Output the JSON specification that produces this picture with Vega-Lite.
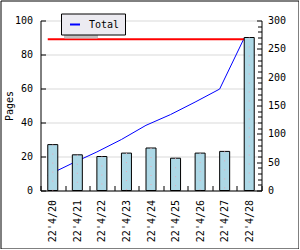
{
  "$schema": "https://vega.github.io/schema/vega-lite/v6.json",
  "width": 298,
  "height": 248,
  "autosize": {"type": "none"},
  "padding": {"left": 0.5, "top": 0.5, "right": 0, "bottom": 0},
  "background": "white",
  "config": {
    "view": {"stroke": "black", "strokeWidth": 1},
    "axis": {
      "labelFont": "DejaVu Sans Mono",
      "labelFontSize": 10,
      "labelColor": "black",
      "titleFont": "DejaVu Sans Mono",
      "titleFontSize": 10,
      "titleFontWeight": "normal",
      "titleColor": "black",
      "domainColor": "black",
      "tickColor": "black",
      "gridColor": "#d9d9d9"
    }
  },
  "data": {
    "values": [
      {"date": "22'4/20", "pages": 27, "total": 27, "limit": 89},
      {"date": "22'4/21", "pages": 21, "total": 48, "limit": 89},
      {"date": "22'4/22", "pages": 20, "total": 68, "limit": 89},
      {"date": "22'4/23", "pages": 22, "total": 90, "limit": 89},
      {"date": "22'4/24", "pages": 25, "total": 115, "limit": 89},
      {"date": "22'4/25", "pages": 19, "total": 134, "limit": 89},
      {"date": "22'4/26", "pages": 22, "total": 156, "limit": 89},
      {"date": "22'4/27", "pages": 23, "total": 179, "limit": 89},
      {"date": "22'4/28", "pages": 90, "total": 269, "limit": 89}
    ]
  },
  "encoding": {
    "x": {
      "field": "date",
      "type": "nominal",
      "sort": null,
      "title": null,
      "scale": {"type": "band", "range": [40, 261], "paddingInner": 0, "paddingOuter": 0},
      "axis": {
        "orient": "bottom",
        "offset": -58,
        "labelAngle": -90,
        "labelAlign": "right",
        "labelBaseline": "middle",
        "tickBand": "extent",
        "tickSize": -5,
        "labelPadding": 14,
        "grid": false
      }
    }
  },
  "layer": [
    {
      "mark": {"type": "line", "strokeWidth": 1},
      "encoding": {
        "x": {"field": "date", "type": "nominal", "sort": null, "bandPosition": 0.295},
        "y": {
          "field": "total",
          "type": "quantitative",
          "title": null,
          "scale": {"domain": [0, 300], "range": [190, 20]},
          "axis": {
            "orient": "right",
            "offset": -37,
            "values": [0,10,20,30,40,50,60,70,80,90,100,110,120,130,140,150,160,170,180,190,200,210,220,230,240,250,260,270,280,290,300],
            "labelExpr": "datum.value % 50 == 0 ? datum.label : ''",
            "tickSize": {"condition": {"test": "datum.value % 50 == 0", "value": -5}, "value": -4},
            "labelPadding": 11,
            "grid": false
          }
        },
        "color": {
          "datum": "Total",
          "scale": {"range": ["#0000ff"]},
          "legend": {
            "orient": "none",
            "legendX": 60.5,
            "legendY": 13,
            "zindex": 2,
            "title": null,
            "fillColor": "#ecebf1",
            "strokeColor": "black",
            "padding": 5,
            "symbolType": "stroke",
            "symbolSize": 100,
            "symbolStrokeWidth": 2,
            "symbolOffset": 3,
            "labelFont": "DejaVu Sans Mono",
            "labelFontSize": 10,
            "labelColor": "black",
            "labelOffset": 8,
            "labelExpr": "datum.label + '\u00a0'"
          }
        },
        "opacity": {
          "datum": "Total\u00a0",
          "type": "ordinal",
          "scale": {"range": [1]},
          "legend": {
            "orient": "none",
            "legendX": 63.5,
            "legendY": 16,
            "zindex": 1,
            "title": null,
            "fillColor": "#c0c0c0",
            "strokeColor": "#c0c0c0",
            "padding": 5,
            "symbolType": "stroke",
            "symbolSize": 100,
            "symbolStrokeWidth": 2,
            "symbolOpacity": 0,
            "symbolOffset": 3,
            "labelFont": "DejaVu Sans Mono",
            "labelFontSize": 10,
            "labelColor": "#c0c0c0",
            "labelOffset": 8,
            "labelExpr": "'\u00a0\u00a0\u00a0\u00a0\u00a0\u00a0'"
          }
        }
      }
    },
    {
      "layer": [
        {
          "mark": {"type": "line", "color": "red", "strokeWidth": 2},
          "encoding": {
            "x": {"field": "date", "type": "nominal", "sort": null, "bandPosition": 0.295},
            "y": {
              "field": "limit",
              "type": "quantitative",
              "title": "Pages",
              "scale": {"domain": [0, 100], "range": [190, 20]},
              "axis": {
                "orient": "left",
                "offset": -40,
                "values": [0,10,20,30,40,50,60,70,80,90,100],
                "labelExpr": "datum.value % 20 == 0 ? datum.label : ''",
                "tickSize": {"condition": {"test": "datum.value % 20 == 0", "value": -5}, "value": -4},
                "labelPadding": 13,
                "titlePadding": 0,
                "grid": true,
                "gridOpacity": {"condition": {"test": "datum.value % 20 == 0", "value": 1}, "value": 0}
              }
            }
          }
        },
        {
          "mark": {"type": "bar", "fill": "#add8e6", "stroke": "black", "strokeWidth": 1, "size": 10},
          "encoding": {
            "y": {"field": "pages", "type": "quantitative", "title": "Pages"}
          }
        },
        {
          "mark": {"type": "rule", "color": "#e8a8b8", "strokeDash": [1, 8]},
          "encoding": {
            "y": {"field": "pages", "type": "quantitative", "title": "Pages"},
            "y2": {"datum": 0}
          }
        }
      ]
    }
  ],
  "resolve": {"scale": {"y": "independent", "color": "independent", "opacity": "independent"}}
}
